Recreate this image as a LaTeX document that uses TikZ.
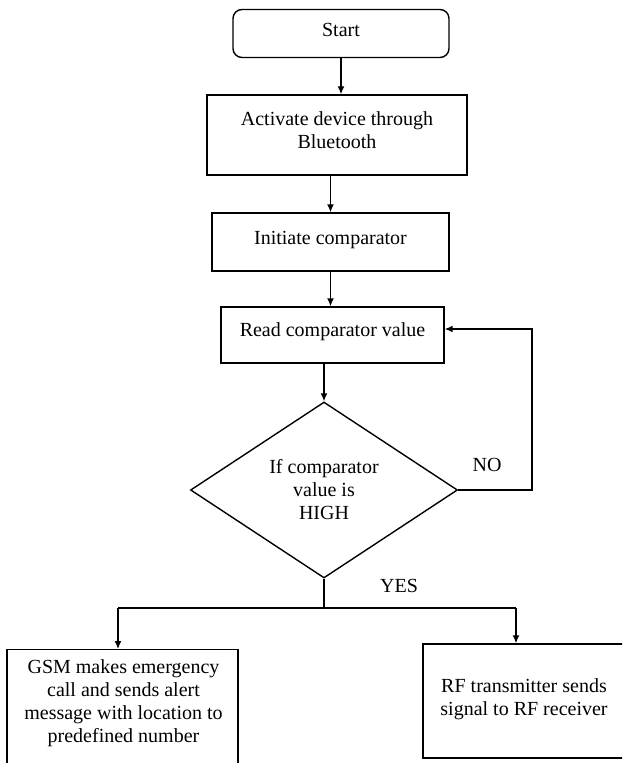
\documentclass[tikz,border=0pt]{standalone}
\usepackage{fontspec}
\setmainfont{Liberation Serif}
\usetikzlibrary{shapes.geometric,arrows.meta}
% text block raised inside its box, box extents unchanged
\newcommand\liftup[2]{\raisebox{#1}[\height][\depth]{\begin{tabular}{@{}c@{}}#2\end{tabular}}}
\begin{document}
\begin{tikzpicture}[x=1pt,y=-1pt,
  font=\fontsize{20}{23}\selectfont,
  box/.style={draw, line width=1.4pt, inner sep=0pt, align=center},
  arr/.style={line width=1.4pt, -{Latex[length=8pt,width=7pt]}},
  wire/.style={line width=1.4pt}]
\useasboundingbox (0,0) rectangle (622,763);
\clip (0,0) rectangle (622,763);

% process steps
\node[box, rounded corners=9pt, minimum width=216pt, minimum height=48pt] (start) at (341,33.5) {\liftup{1.5pt}{Start}};
\node[box, minimum width=260pt, minimum height=80pt] (act) at (337,135) {\liftup{3pt}{Activate device through\\Bluetooth}};
\node[box, minimum width=237pt, minimum height=58pt] (init) at (330.5,242) {\liftup{2pt}{Initiate comparator}};
\node[box, minimum width=223pt, minimum height=56pt] (read) at (332.5,335) {\liftup{3pt}{Read comparator value}};
\node[box, diamond, minimum width=267pt, minimum height=176pt] (dec) at (324,490) {If comparator\\value is\\HIGH};

% outcome boxes (run past the page edge)
\node[box, minimum width=231pt, minimum height=160pt, anchor=north] (gsm) at (122.5,649) {};
\node[align=center, anchor=north, inner sep=0pt] (gsmtext) at (123.5,659)
  {GSM makes emergency\\call and sends alert\\message with location to\\predefined number};
\node[box, minimum width=202pt, minimum height=114pt] (rf) at (524,701) {\liftup{1.5pt}{RF transmitter sends\\signal to RF receiver}};

% routing points
\coordinate (noc) at (532,329);
\coordinate (split) at (324,608);
\coordinate (yl) at (118,608);
\coordinate (yr) at (516,608);

% connectors
\draw[arr] (start.south) -- (start.south |- act.north);
\draw[arr] (init.north |- act.south) -- (init.north);
\draw[arr] (init.south) -- (init.south |- read.north);
\draw[arr] (dec.north |- read.south) -- (dec.north);
\draw[arr] (dec.east) -| (noc) -- (noc -| read.east);
\draw[wire] (dec.south) -- (split);
\draw[wire] (yl) -- (yr);
\draw[arr] (yl) -- (yl |- gsm.north);
\draw[arr] (yr) -- (yr |- rf.north);

% branch labels
\node (no) at (487,465) {NO};
\node (yes) at (399,586) {YES};
\end{tikzpicture}
\end{document}
